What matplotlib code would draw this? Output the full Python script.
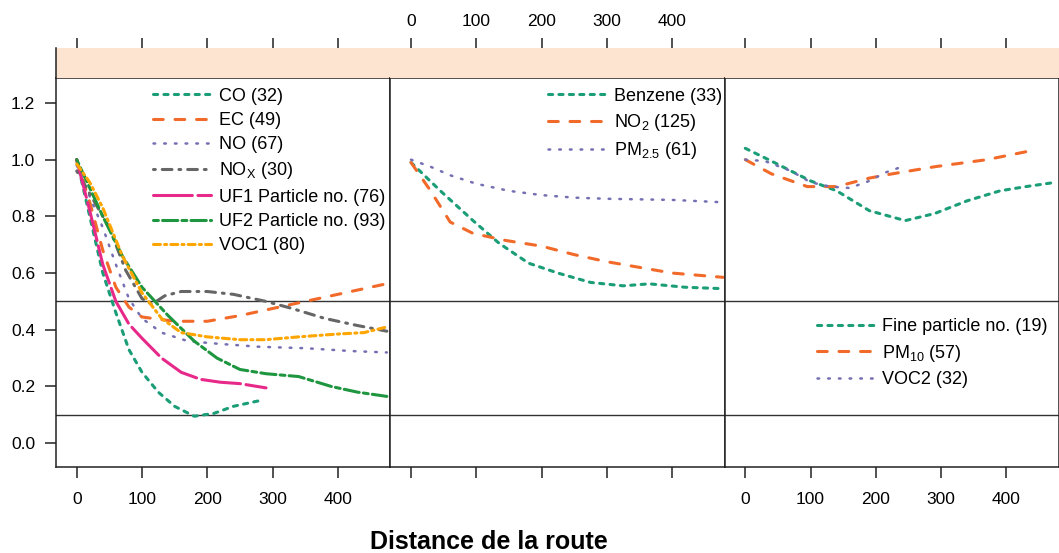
import matplotlib
matplotlib.use("Agg")
import matplotlib.pyplot as plt

plt.rcParams['font.family'] = ['Liberation Sans', 'DejaVu Sans']
plt.rcParams['mathtext.fontset'] = 'custom'
plt.rcParams['mathtext.rm'] = 'Liberation Sans'
plt.rcParams['mathtext.default'] = 'regular'
plt.rcParams['lines.scale_dashes'] = False

# panel 1
co_x = [0, 20, 40, 60, 80, 100, 125, 150, 180, 210, 240, 280]
co_y = [1.0, 0.8, 0.6, 0.46, 0.33, 0.25, 0.18, 0.13, 0.095, 0.105, 0.13, 0.15]
ec_x = [0, 20, 40, 60, 80, 100, 150, 200, 250, 300, 350, 400, 470]
ec_y = [1.0, 0.85, 0.68, 0.55, 0.48, 0.445, 0.43, 0.43, 0.45, 0.475, 0.5, 0.525, 0.56]
no_x = [0, 20, 40, 60, 80, 100, 130, 170, 220, 280, 350, 420, 475]
no_y = [0.98, 0.87, 0.76, 0.63, 0.51, 0.44, 0.39, 0.36, 0.35, 0.34, 0.335, 0.325, 0.32]
nox_x = [0, 25, 50, 75, 100, 115, 135, 160, 200, 240, 290, 330, 380, 430, 475]
nox_y = [0.96, 0.86, 0.76, 0.61, 0.51, 0.49, 0.52, 0.535, 0.535, 0.525, 0.5, 0.475, 0.44, 0.415, 0.395]
uf1_x = [0, 20, 40, 60, 80, 100, 130, 160, 190, 220, 250, 290]
uf1_y = [1.0, 0.82, 0.63, 0.5, 0.42, 0.37, 0.3, 0.25, 0.225, 0.215, 0.21, 0.195]
uf2_x = [0, 20, 40, 70, 100, 140, 180, 215, 250, 290, 340, 390, 430, 475]
uf2_y = [1.0, 0.9, 0.8, 0.66, 0.55, 0.45, 0.36, 0.3, 0.26, 0.245, 0.235, 0.2, 0.18, 0.165]
voc1_x = [0, 20, 40, 70, 100, 130, 160, 200, 250, 290, 340, 400, 440, 475]
voc1_y = [0.985, 0.92, 0.83, 0.66, 0.53, 0.44, 0.39, 0.375, 0.365, 0.365, 0.375, 0.385, 0.39, 0.41]

# panel 2
benz_x = [0, 45, 95, 135, 180, 225, 275, 325, 365, 420, 478]
benz_y = [0.99, 0.89, 0.785, 0.705, 0.635, 0.6, 0.567, 0.555, 0.562, 0.55, 0.545]
no2_x = [0, 30, 60, 95, 145, 200, 250, 300, 350, 400, 478]
no2_y = [0.99, 0.89, 0.78, 0.74, 0.715, 0.695, 0.665, 0.64, 0.62, 0.6, 0.585]
pm25_x = [0, 30, 60, 100, 150, 200, 250, 300, 350, 400, 475]
pm25_y = [1.0, 0.975, 0.945, 0.915, 0.89, 0.875, 0.866, 0.862, 0.86, 0.858, 0.85]

# panel 3
fine_x = [0, 40, 100, 140, 190, 245, 290, 340, 390, 430, 475]
fine_y = [1.04, 0.995, 0.925, 0.89, 0.82, 0.785, 0.81, 0.855, 0.89, 0.905, 0.92]
pm10_x = [0, 40, 95, 140, 190, 225, 290, 370, 430]
pm10_y = [1.0, 0.95, 0.905, 0.905, 0.935, 0.95, 0.975, 1.0, 1.028]
voc2_x = [0, 30, 70, 100, 130, 160, 190, 215, 240]
voc2_y = [1.0, 0.995, 0.96, 0.92, 0.905, 0.9, 0.925, 0.955, 0.975]

x_ticks = [0, 100, 200, 300, 400]
y_ticks = [0.0, 0.2, 0.4, 0.6, 0.8, 1.0, 1.2]
ref_lines = [0.5, 0.1]

GREEN, ORANGE, PURPLE = '#1b9e77', '#f26a2a', '#7570b3'
DOT = (0, (3, 4.5))
DASH = (0, (7, 8.5))
SPARSE = (0, (1.2, 6.5))

panels = [
    [('CO (32)', co_x, co_y, GREEN, DOT, 2.2),
     ('EC (49)', ec_x, ec_y, ORANGE, DASH, 2.2),
     ('NO (67)', no_x, no_y, PURPLE, SPARSE, 1.8),
     ('NO$_X$ (30)', nox_x, nox_y, '#666666', (0, (1.3, 5, 7, 5)), 2.2),
     ('UF1 Particle no. (76)', uf1_x, uf1_y, '#e7298a', (0, (28, 4)), 2.2),
     ('UF2 Particle no. (93)', uf2_x, uf2_y, '#1e9640', (0, (3.5, 3, 11, 3)), 2.2),
     ('VOC1 (80)', voc1_x, voc1_y, '#ffa500', (0, (5, 3, 1.5, 3)), 2.2)],
    [('Benzene (33)', benz_x, benz_y, GREEN, DOT, 2.2),
     ('NO$_2$ (125)', no2_x, no2_y, ORANGE, DASH, 2.2),
     ('PM$_{2.5}$ (61)', pm25_x, pm25_y, PURPLE, SPARSE, 1.8)],
    [('Fine particle no. (19)', fine_x, fine_y, GREEN, DOT, 2.2),
     ('PM$_{10}$ (57)', pm10_x, pm10_y, ORANGE, DASH, 2.2),
     ('VOC2 (32)', voc2_x, voc2_y, PURPLE, SPARSE, 1.8)],
]
legend_anchor = [(0.29, 0.975), (0.473, 0.975), (0.275, 0.382)]

W, H = 1059, 553
fig = plt.figure(figsize=(W / 100, H / 100), dpi=100)
left_px, panel_w = 56, 334.3
strip_top, top_px, bot_px = 48, 78, 467
EDGE = '#222222'

for i, series in enumerate(panels):
    x0 = (left_px + i * panel_w) / W
    ax = fig.add_axes([x0, 1 - bot_px / H, panel_w / W, (bot_px - top_px) / H])
    st = fig.add_axes([x0, 1 - top_px / H, panel_w / W, (top_px - strip_top) / H])

    for y in ref_lines:
        ax.axhline(y, color='#333333', lw=1.0, zorder=1)
    for label, xs, ys, color, ls, lw in series:
        ax.plot(xs, ys, color=color, ls=ls, lw=lw, label=label,
                dash_capstyle='round', zorder=3)

    ax.set_xlim(-31.7, 480.3)
    ax.set_ylim(-0.084, 1.288)
    for sp in ax.spines.values():
        sp.set_color(EDGE)
        sp.set_linewidth(1.1)
    ax.set_xticks(x_ticks)
    ax.tick_params(axis='x', direction='out', length=8, width=1.1, color=EDGE,
                   pad=10, labelsize=12.5, labelbottom=(i != 1))
    if i == 0:
        ax.set_yticks(y_ticks)
        ax.set_yticklabels(['%.1f' % v for v in y_ticks])
        ax.tick_params(axis='y', direction='out', length=8, width=1.1, color=EDGE,
                       pad=7, labelsize=12.5)
    else:
        ax.set_yticks([])

    ax.legend(loc='upper left', bbox_to_anchor=legend_anchor[i],
              frameon=False, fontsize=13, handlelength=3.2,
              handletextpad=0.45, labelspacing=0.4, borderpad=0,
              borderaxespad=0)

    st.set_facecolor('#fde4d0')
    st.set_xlim(-31.7, 480.3)
    st.set_ylim(0, 1)
    st.set_yticks([])
    for name, sp in st.spines.items():
        sp.set_visible(name == 'left' and i == 0)
        sp.set_color(EDGE)
        sp.set_linewidth(1.1)
    st.set_xticks(x_ticks)
    st.xaxis.tick_top()
    st.tick_params(axis='x', direction='out', length=7, width=1.1, color=EDGE,
                   pad=7, labelsize=12.5, labeltop=(i == 1), labelbottom=False)

fig.text(489 / W, 1 - 542 / H, 'Distance de la route', ha='center', va='center',
         fontsize=18, fontweight='bold')

fig.savefig('out.png', dpi=100)
